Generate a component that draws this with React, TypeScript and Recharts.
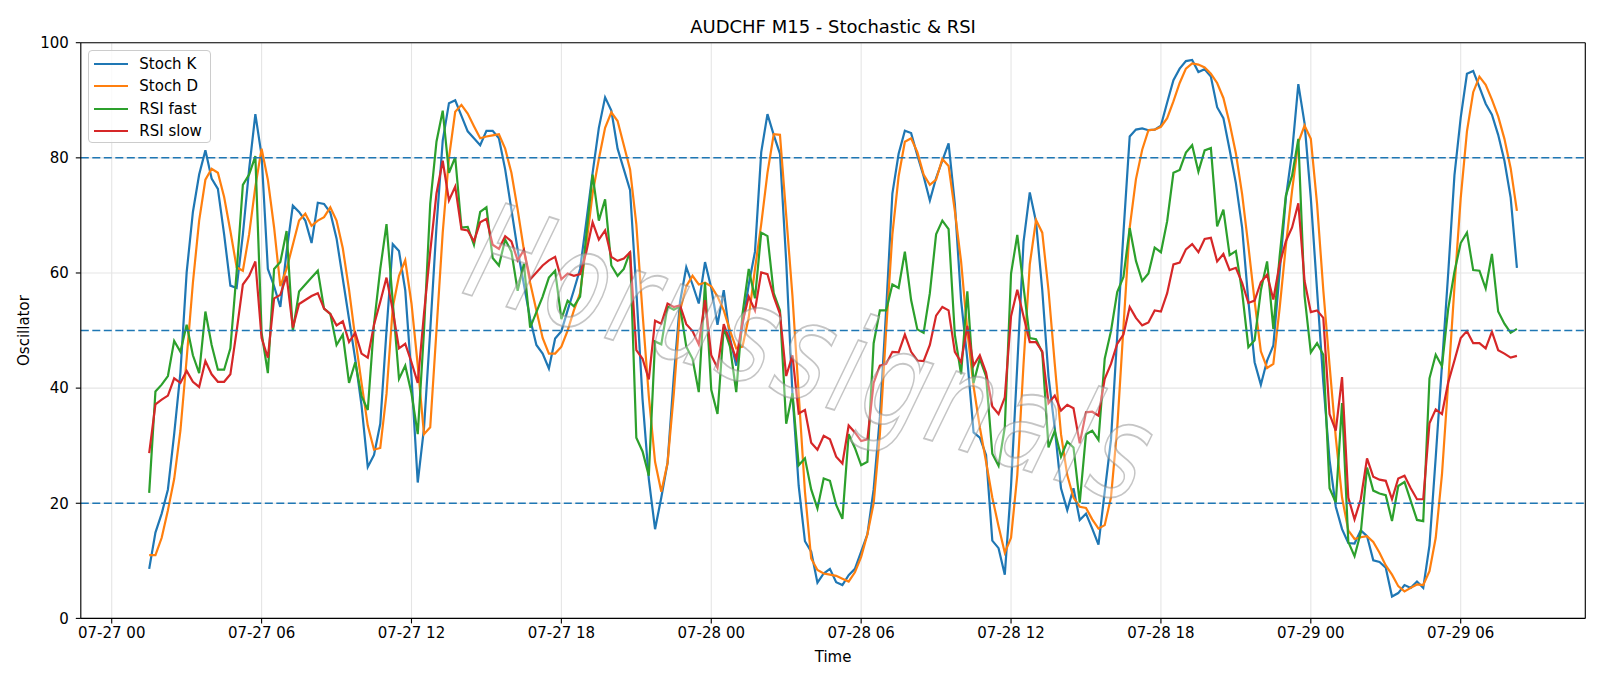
import React from 'react';
import { LineChart, Line, XAxis, YAxis, CartesianGrid, ReferenceLine } from 'recharts';

// AUDCHF M15 oscillators, one value per 15-minute bar starting 07-27 01:30
const stochK = [
  8.6, 14.9, 18.2, 22.4, 32.0, 42.7, 60.1, 70.6, 77.1, 81.3,
  76.4, 74.6, 66.7, 57.8, 57.4, 66.7, 78.0, 87.6, 80.4, 60.7,
  57.7, 54.1, 63.7, 71.7, 70.6, 69.1, 65.2, 72.2, 72.0, 70.5,
  66.0, 59.0, 52.0, 45.0, 37.0, 26.3, 28.4, 33.8, 50.0, 65.0,
  63.8, 57.0, 42.0, 23.6, 33.0, 50.0, 68.0, 83.0, 89.5, 90.0,
  87.3, 84.6, 83.4, 82.2, 84.7, 84.7, 83.4, 78.0, 71.0, 64.0,
  58.0, 52.0, 47.5, 46.0, 43.4, 48.6, 49.9, 53.5, 57.0, 60.7,
  69.0, 77.4, 85.2, 90.5, 88.2, 81.6, 78.0, 74.4, 57.0, 38.0,
  24.2, 15.5, 21.0, 27.0, 42.0, 55.0, 61.0, 58.0, 54.7, 61.9,
  57.4, 51.0, 57.0, 48.7, 43.9, 51.0, 58.0, 63.7, 81.0, 87.6,
  84.0, 80.7, 62.0, 39.0, 23.0, 13.4, 11.6, 6.2, 7.8, 8.6,
  6.3, 5.8, 7.5, 8.6, 11.6, 14.6, 22.4, 35.0, 53.5, 73.8,
  80.7, 84.7, 84.3, 80.4, 76.8, 72.6, 76.5, 79.5, 82.5, 72.0,
  55.3, 45.0, 32.3, 31.4, 28.4, 13.5, 12.2, 7.6, 23.0, 44.0,
  65.4, 74.0, 68.9, 57.0, 42.0, 33.0, 22.6, 18.8, 22.6, 17.1,
  18.2, 15.6, 12.8, 22.0, 31.0, 49.0, 67.0, 83.7, 84.9, 85.1,
  84.8, 84.9, 85.6, 89.6, 93.5, 95.5, 96.8, 97.0, 94.9, 95.4,
  94.1, 88.8, 86.9, 81.4, 75.6, 67.9, 55.1, 44.5, 40.6, 44.8,
  47.4, 60.0, 73.0, 81.0, 92.8, 86.0, 73.0, 57.0, 41.0, 27.5,
  19.4, 15.5, 13.1, 13.0, 15.3, 14.3, 10.1, 9.8, 8.8, 3.8,
  4.4, 5.8, 5.3, 6.4, 5.3, 12.7, 28.0, 44.0, 60.0, 77.0,
  87.0, 94.6, 95.1, 92.3, 89.4, 87.5, 84.0, 79.5, 73.1, 60.9,
];

const stochD = [
  11.0, 11.0, 14.0, 18.8, 24.2, 32.6, 45.1, 58.3, 69.1, 76.2,
  78.1, 77.4, 73.2, 67.3, 61.0, 60.4, 66.7, 75.0, 81.6, 76.2,
  67.9, 57.7, 60.7, 64.9, 69.1, 70.3, 68.2, 69.1, 69.7, 71.4,
  69.1, 64.3, 57.1, 48.7, 40.9, 33.5, 29.3, 29.6, 39.0, 54.0,
  59.5, 62.2, 54.7, 44.0, 32.0, 33.2, 50.0, 67.0, 80.0, 88.0,
  89.2, 87.7, 85.5, 83.4, 83.7, 83.9, 84.1, 81.6, 77.4, 71.0,
  64.0, 58.3, 53.5, 48.7, 46.0, 46.0, 47.2, 50.0, 53.5, 56.5,
  65.0, 73.8, 79.8, 85.2, 87.9, 86.4, 82.2, 78.0, 68.5, 53.0,
  38.6, 27.2, 22.0, 27.0, 39.0, 53.5, 57.7, 59.5, 58.0, 58.3,
  57.7, 55.9, 53.5, 50.0, 46.9, 47.2, 52.3, 60.7, 68.5, 77.4,
  84.1, 84.0, 70.0, 56.0, 39.0, 22.0, 10.4, 8.4, 7.8, 7.6,
  7.4, 6.9, 6.4, 8.0, 10.7, 14.6, 20.0, 32.0, 50.0, 66.7,
  76.8, 82.8, 83.4, 81.0, 77.1, 75.3, 76.2, 79.8, 78.6, 70.8,
  62.0, 50.0, 40.3, 33.2, 27.2, 21.0, 16.0, 11.4, 14.0, 24.9,
  44.2, 61.5, 69.2, 67.0, 57.0, 44.2, 32.0, 24.9, 21.0, 19.4,
  19.2, 17.2, 15.6, 16.2, 21.0, 33.0, 50.6, 67.9, 76.3, 81.4,
  84.8, 84.9, 85.4, 86.9, 89.8, 93.0, 95.5, 96.4, 96.2, 95.7,
  94.6, 93.0, 90.4, 86.0, 80.8, 73.7, 64.7, 55.1, 46.4, 43.5,
  44.2, 53.8, 64.7, 74.3, 82.7, 85.6, 83.3, 72.0, 57.0, 44.0,
  31.4, 21.0, 15.3, 13.8, 14.1, 14.3, 13.3, 11.4, 9.2, 7.6,
  5.6, 4.7, 5.3, 5.9, 5.8, 8.2, 14.0, 25.0, 41.0, 57.6,
  73.0, 84.6, 91.4, 94.1, 92.7, 90.1, 87.2, 83.3, 78.2, 70.8,
];

const rsiFast = [
  21.8, 39.4, 40.6, 42.1, 48.2, 46.3, 51.0, 45.7, 42.6, 53.3,
  47.5, 43.2, 43.2, 46.9, 60.1, 75.3, 77.1, 80.3, 49.6, 42.6,
  60.7, 61.9, 67.3, 49.9, 56.8, 58.0, 59.2, 60.4, 53.8, 52.9,
  47.5, 49.3, 40.9, 44.5, 38.6, 36.2, 51.1, 60.7, 68.5, 55.0,
  41.6, 43.9, 39.1, 32.0, 49.9, 72.0, 82.8, 88.2, 77.4, 80.1,
  67.9, 68.0, 64.9, 70.6, 71.4, 62.6, 61.3, 65.8, 63.7, 56.9,
  61.6, 50.5, 53.2, 55.9, 59.2, 60.4, 52.0, 55.2, 54.2, 55.9,
  66.7, 77.1, 69.1, 72.8, 61.3, 59.5, 60.7, 63.7, 31.4, 29.0,
  24.8, 48.1, 47.6, 54.2, 53.6, 54.2, 47.2, 45.1, 39.3, 58.4,
  39.7, 35.5, 50.5, 47.2, 39.3, 52.9, 60.7, 55.6, 67.0, 66.4,
  56.5, 53.5, 33.8, 39.1, 26.6, 27.8, 22.4, 19.1, 24.3, 23.9,
  19.7, 17.3, 32.0, 29.6, 26.6, 27.2, 47.8, 53.5, 53.5, 58.0,
  57.4, 63.7, 55.3, 50.2, 49.6, 56.5, 66.7, 69.1, 67.6, 49.3,
  42.4, 56.8, 40.9, 45.1, 42.1, 28.6, 26.5, 33.2, 59.9, 66.6,
  57.6, 48.7, 48.5, 46.2, 29.7, 32.6, 28.1, 30.7, 29.7, 20.1,
  32.0, 32.6, 31.0, 45.1, 49.9, 56.7, 59.3, 67.8, 62.1, 58.6,
  59.9, 64.4, 63.6, 69.0, 77.4, 77.9, 80.9, 82.2, 77.6, 81.3,
  81.7, 68.1, 71.0, 63.1, 63.8, 56.7, 47.1, 48.3, 57.0, 62.0,
  50.3, 62.8, 73.4, 76.9, 83.3, 56.0, 46.2, 47.8, 45.8, 22.6,
  20.1, 37.4, 13.3, 10.8, 14.9, 26.2, 22.2, 21.7, 21.4, 16.9,
  23.0, 23.7, 20.4, 17.1, 16.9, 41.7, 45.8, 43.8, 53.8, 60.2,
  65.2, 67.0, 60.5, 60.4, 57.3, 63.3, 53.3, 51.2, 49.6, 50.3,
];

const rsiSlow = [
  28.7, 37.2, 38.0, 38.7, 41.7, 40.9, 43.0, 41.1, 40.2, 44.7,
  42.4, 41.1, 41.1, 42.4, 49.9, 58.0, 59.5, 62.0, 48.7, 45.3,
  55.6, 56.2, 59.5, 50.5, 54.6, 55.3, 56.0, 56.5, 53.8, 52.9,
  50.9, 51.6, 48.0, 49.6, 46.0, 45.3, 51.0, 55.0, 59.2, 53.5,
  46.9, 47.7, 44.5, 40.9, 52.9, 63.7, 73.8, 79.5, 72.6, 75.0,
  67.6, 67.4, 65.5, 68.8, 69.4, 64.9, 64.2, 66.4, 65.5, 62.2,
  64.0, 58.9, 60.1, 61.3, 62.2, 62.8, 58.9, 59.9, 59.5, 59.8,
  63.7, 68.8, 65.8, 67.4, 62.8, 62.1, 62.5, 63.6, 46.6, 45.1,
  41.5, 51.7, 51.2, 54.7, 54.1, 54.4, 51.1, 49.9, 47.6, 55.3,
  45.7, 43.5, 51.1, 48.1, 45.1, 51.4, 55.9, 53.5, 60.1, 59.8,
  55.9, 52.9, 42.1, 45.7, 35.6, 36.2, 30.5, 29.3, 31.7, 31.1,
  28.1, 26.9, 33.5, 32.3, 30.8, 31.1, 40.9, 43.9, 44.2, 46.3,
  46.2, 49.3, 46.3, 44.8, 44.7, 47.5, 52.6, 54.1, 53.5, 46.3,
  44.5, 50.8, 43.9, 45.7, 42.7, 36.8, 35.5, 38.4, 52.5, 57.1,
  52.5, 48.0, 48.0, 46.4, 37.4, 38.7, 36.1, 37.1, 36.5, 30.4,
  35.8, 35.9, 35.2, 41.6, 44.2, 47.7, 49.3, 54.1, 52.2, 50.9,
  51.4, 53.5, 53.3, 56.5, 61.5, 61.8, 64.1, 65.0, 63.6, 65.9,
  66.1, 62.0, 63.3, 60.5, 60.9, 58.3, 54.8, 55.2, 58.4, 59.7,
  55.4, 61.5, 65.5, 67.9, 72.1, 58.6, 53.2, 53.5, 52.2, 35.5,
  32.6, 41.9, 21.0, 17.2, 20.7, 27.8, 24.6, 24.1, 23.9, 20.7,
  24.3, 24.8, 22.6, 20.7, 20.7, 33.9, 36.3, 35.5, 41.0, 44.8,
  48.7, 49.9, 47.8, 47.8, 46.9, 49.8, 46.6, 46.0, 45.3, 45.6,
];

// bar times in hours after 07-27 00:00
const FIRST_BAR_HOUR = 1.5;
const BAR_HOURS = 0.25;

const tickHours = [0, 6, 12, 18, 24, 30, 36, 42, 48, 54];
const tickLabels = [
  '07-27 00', '07-27 06', '07-27 12', '07-27 18', '07-28 00',
  '07-28 06', '07-28 12', '07-28 18', '07-29 00', '07-29 06',
];
const yTicks = [0, 20, 40, 60, 80, 100];
const yRange: [number, number] = [0, 100];
const levels = [80, 50, 20];

const series = [
  { key: 'k', name: 'Stoch K', color: '#1f77b4' },
  { key: 'd', name: 'Stoch D', color: '#ff7f0e' },
  { key: 'rf', name: 'RSI fast', color: '#2ca02c' },
  { key: 'rs', name: 'RSI slow', color: '#d62728' },
];

const rows = stochK.map((v, i) => ({
  t: FIRST_BAR_HOUR + i * BAR_HOURS,
  k: v,
  d: stochD[i],
  rf: rsiFast[i],
  rs: rsiSlow[i],
}));

const tFirst = rows[0].t;
const tLast = rows[rows.length - 1].t;
const pad = (tLast - tFirst) * 0.05;
const xDomain: [number, number] = [tFirst - pad, tLast + pad];

const FONT = 'DejaVu Sans, Verdana, sans-serif';
const W = 1600;
const H = 686;

const labelFor = (h: number) => {
  const idx = tickHours.indexOf(h);
  return idx >= 0 ? tickLabels[idx] : '';
};

const YLabel = (props: any) => {
  const vb = props.viewBox || { x: 0, y: 0, width: 0, height: 0 };
  const cx = vb.x + 24.5;
  const cy = vb.y + vb.height / 2;
  return (
    <text
      x={cx}
      y={cy}
      transform={`rotate(-90 ${cx} ${cy})`}
      textAnchor="middle"
      dominantBaseline="central"
      fill="#000"
      fontSize={15}
      fontFamily={FONT}
    >
      Oscillator
    </text>
  );
};

// watermark placement (rotated, vertically stretched outline text)
const WM_X = 460;
const WM_Y = 292;
const WM_ANGLE = 17.5;
const WM_STRETCH = 1.35;

export default function App() {
  return (
    <div style={{ position: 'absolute', left: 0, top: 0, width: W, height: H, background: '#fff', fontFamily: FONT }}>
      <LineChart
        width={W}
        height={H}
        data={rows}
        margin={{ top: 42.7, right: 14.7, bottom: 17.6, left: 0 }}
      >
        <CartesianGrid stroke="#e5e5e5" strokeWidth={1.1} />
        <XAxis
          dataKey="t"
          type="number"
          domain={xDomain}
          allowDataOverflow
          ticks={tickHours}
          tickFormatter={labelFor}
          height={50}
          tickSize={5}
          tickMargin={4}
          axisLine={{ stroke: '#000', strokeWidth: 1.1 }}
          tickLine={{ stroke: '#000', strokeWidth: 1.1 }}
          tick={{ fill: '#000', fontSize: 15, fontFamily: FONT }}
          label={{ value: 'Time', position: 'insideBottom', offset: 6, fill: '#000', fontSize: 15, fontFamily: FONT }}
        />
        <YAxis
          type="number"
          domain={yRange}
          ticks={yTicks}
          width={80.8}
          tickSize={5}
          tickMargin={7}
          axisLine={{ stroke: '#000', strokeWidth: 1.1 }}
          tickLine={{ stroke: '#000', strokeWidth: 1.1 }}
          tick={{ fill: '#000', fontSize: 15, fontFamily: FONT }}
          label={<YLabel />}
        />
        {series.map((s) => (
          <Line
            key={s.key}
            type="linear"
            dataKey={s.key}
            name={s.name}
            stroke={s.color}
            strokeWidth={2.2}
            dot={false}
            activeDot={false}
            isAnimationActive={false}
          />
        ))}
        {levels.map((lv) => (
          <ReferenceLine
            key={lv}
            y={lv}
            stroke="#1f77b4"
            strokeWidth={1.5}
            strokeDasharray="8 3.5"
          />
        ))}
        {/* top and right spines of the axes frame */}
        <ReferenceLine y={yRange[1]} stroke="#000" strokeWidth={1.1} />
        <ReferenceLine x={xDomain[1]} stroke="#000" strokeWidth={1.1} />
      </LineChart>

      {/* title */}
      <div
        style={{
          position: 'absolute',
          left: 80.8,
          width: 1504.5,
          top: 16,
          textAlign: 'center',
          fontSize: 18,
          lineHeight: '21px',
          color: '#000',
          fontFamily: FONT,
        }}
      >
        AUDCHF M15 - Stochastic &amp; RSI
      </div>

      {/* legend */}
      <div
        style={{
          position: 'absolute',
          left: 88.3,
          top: 50.2,
          width: 123,
          height: 93,
          boxSizing: 'border-box',
          border: '1px solid #cccccc',
          borderRadius: 4,
          background: 'rgba(255,255,255,0.8)',
        }}
      >
        {series.map((s, i) => (
          <div
            key={s.key}
            style={{
              position: 'absolute',
              left: 0,
              top: 2 + i * 22.2,
              height: 22,
              display: 'flex',
              alignItems: 'center',
            }}
          >
            <svg width={40} height={22} style={{ display: 'block' }}>
              <line x1={5} x2={39} y1={11} y2={11} stroke={s.color} strokeWidth={2.2} />
            </svg>
            <span style={{ marginLeft: 10, fontSize: 15, fontFamily: FONT, color: '#000', whiteSpace: 'nowrap' }}>
              {s.name}
            </span>
          </div>
        ))}
      </div>

      {/* watermark */}
      <svg
        width={W}
        height={H}
        style={{ position: 'absolute', left: 0, top: 0, pointerEvents: 'none' }}
      >
        <g transform={`rotate(${WM_ANGLE} ${WM_X} ${WM_Y}) translate(${WM_X} ${WM_Y}) scale(1 ${WM_STRETCH}) translate(${-WM_X} ${-WM_Y})`}>
          <text
            x={WM_X}
            y={WM_Y}
            fontSize={100}
            fontStyle="italic"
            fontFamily={FONT}
            fill="#ffffff"
            fillOpacity={0.35}
            stroke="#8c8c8c"
            strokeOpacity={0.5}
            strokeWidth={1.4}
            textLength={705}
            lengthAdjust="spacing"
          >
            Horussignals
          </text>
        </g>
      </svg>
    </div>
  );
}
